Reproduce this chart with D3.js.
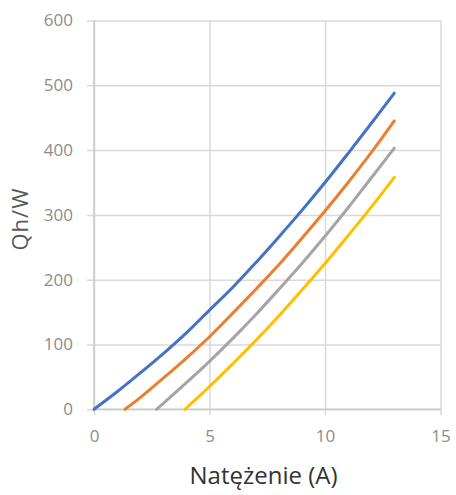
<!DOCTYPE html>
<html>
<head>
<meta charset="utf-8">
<script src="https://cdn.jsdelivr.net/npm/d3@7"></script>
<style>
  html, body { margin: 0; padding: 0; background: #fff; }
  svg { display: block; }
</style>
</head>
<body>
<svg id="chart" width="456" height="495"></svg>
<script>
// ---- data ----
const xTicks = [0, 5, 10, 15];
const yTicks = [0, 100, 200, 300, 400, 500, 600];
const seriesNames = ["s1", "s2", "s3", "s4"];
const seriesColors = ["#4472C4", "#ED7D31", "#A5A5A5", "#FFC000"];

const currentBlue   = [0, 1, 2, 3, 4, 5, 6, 7, 8, 9, 10, 11, 12, 13];
const heatBlue      = [0, 27, 56, 86, 118, 153, 188, 226, 266, 307, 350, 395, 441, 488];

const currentOrange = [1.34, 2, 3, 4, 5, 6, 7, 8, 9, 10, 11, 12, 13];
const heatOrange    = [0, 18, 48, 79, 112, 148, 185, 223, 264, 306, 350, 396, 445];

const currentGray   = [2.71, 3, 4, 5, 6, 7, 8, 9, 10, 11, 12, 13];
const heatGray      = [0, 9, 41, 74, 109, 146, 185, 225, 267, 311, 357, 403];

const currentYellow = [3.94, 4, 5, 6, 7, 8, 9, 10, 11, 12, 13];
const heatYellow    = [0, 2, 35, 70, 106, 144, 184, 225, 268, 312, 358];

const xTitle = "Natężenie (A)";
const yTitle = "Qh/W";

// ---- build ----
const series = [
  currentBlue.map((v, i) => ({x: v, y: heatBlue[i]})),
  currentOrange.map((v, i) => ({x: v, y: heatOrange[i]})),
  currentGray.map((v, i) => ({x: v, y: heatGray[i]})),
  currentYellow.map((v, i) => ({x: v, y: heatYellow[i]}))
];

const svg = d3.select("#chart");
const plotL = 94, plotR = 440.5, plotT = 20.5, plotB = 409.3;

const x = d3.scaleLinear().domain([0, 15]).range([plotL, plotR]);
const y = d3.scaleLinear().domain([0, 600]).range([plotB, plotT]);

const gridColor = "#d9d9d9";
const labelColor = "#8c8c8c";

// horizontal gridlines + y ticks
const gy = svg.append("g")
  .attr("transform", `translate(${plotL},0)`)
  .call(d3.axisLeft(y).tickValues(yTicks).tickSize(7).tickPadding(14));
gy.select(".domain").remove();
gy.selectAll(".tick line").attr("stroke", gridColor).attr("stroke-width", 1.5)
  .attr("x2", plotR - plotL).attr("x1", -7);
gy.selectAll(".tick text")
  .attr("fill", labelColor)
  .style("font-family", "'Open Sans', sans-serif")
  .style("font-size", "17px");

// vertical gridlines + x ticks
const gx = svg.append("g")
  .attr("transform", `translate(0,${plotB})`)
  .call(d3.axisBottom(x).tickValues(xTicks).tickSize(6).tickPadding(15));
gx.select(".domain").remove();
gx.selectAll(".tick line").attr("stroke", gridColor).attr("stroke-width", 1.5)
  .attr("y1", -(plotB - plotT)).attr("y2", 6);
gx.selectAll(".tick text")
  .attr("fill", labelColor)
  .style("font-family", "'Open Sans', sans-serif")
  .style("font-size", "17px");

// axis lines (slightly darker)
svg.append("line").attr("x1", plotL).attr("x2", plotR).attr("y1", plotB).attr("y2", plotB)
  .attr("stroke", "#c8c8c8").attr("stroke-width", 1.5);
svg.append("line").attr("x1", plotL).attr("x2", plotL).attr("y1", plotT).attr("y2", plotB)
  .attr("stroke", "#c8c8c8").attr("stroke-width", 1.5);

// curves
const line = d3.line()
  .x(d => x(d.x))
  .y(d => y(d.y))
  .curve(d3.curveCatmullRom.alpha(0.5));

svg.append("g").selectAll("path")
  .data(series)
  .join("path")
  .attr("d", line)
  .attr("fill", "none")
  .attr("stroke", (d, i) => seriesColors[i])
  .attr("stroke-width", 3)
  .attr("stroke-linecap", "round");

// axis titles
svg.append("text")
  .attr("x", (189 + 338) / 2)
  .attr("y", 484)
  .attr("text-anchor", "middle")
  .attr("fill", "#333")
  .style("font-family", "'Open Sans', sans-serif")
  .style("font-size", "24px")
  .text(xTitle);

svg.append("text")
  .attr("transform", "translate(28,219) rotate(-90)")
  .attr("text-anchor", "middle")
  .attr("fill", "#595959")
  .style("font-family", "'Open Sans', sans-serif")
  .style("font-size", "22px")
  .style("letter-spacing", "1px")
  .text(yTitle);
</script>
</body>
</html>
